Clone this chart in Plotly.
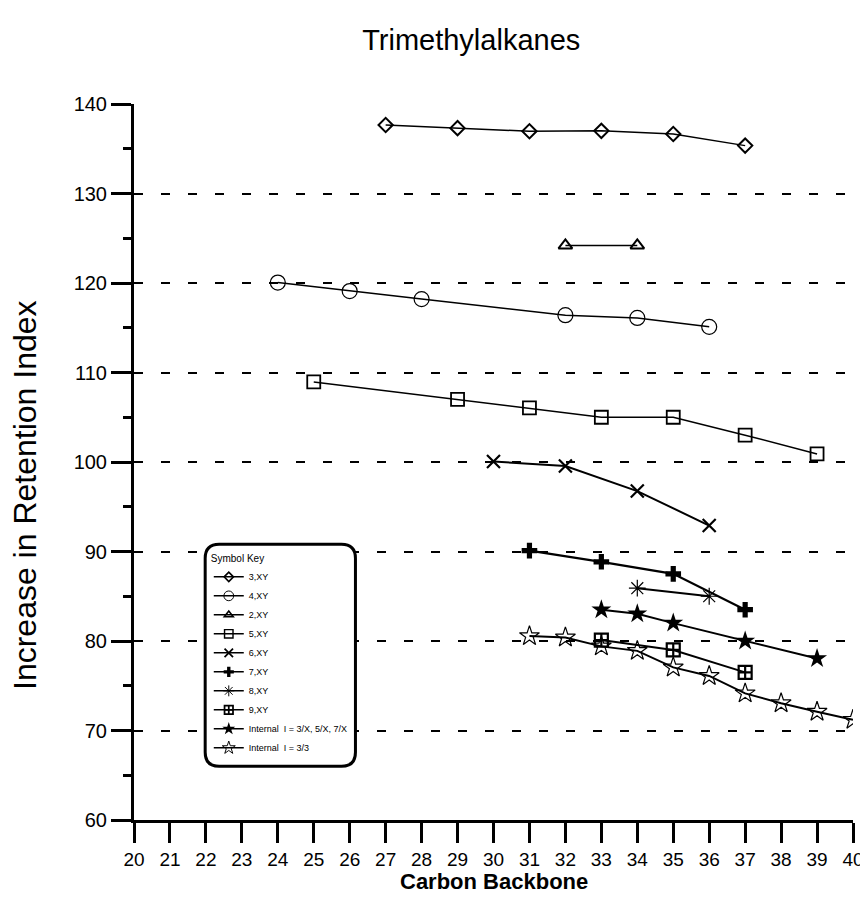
import plotly.graph_objects as go

title_text = "Trimethylalkanes"
x_title = "Carbon Backbone"
y_title = "Increase in Retention Index"

names = ["3,XY", "4,XY", "2,XY", "5,XY", "6,XY", "7,XY", "8,XY", "9,XY",
         "Internal  I = 3/X, 5/X, 7/X", "Internal  I = 3/3"]

x_3xy = [27, 29, 31, 33, 35, 37]
y_3xy = [137.65, 137.3, 136.95, 137.0, 136.65, 135.35]

x_4xy = [24, 26, 28, 32, 34, 36]
y_4xy = [120.05, 119.1, 118.2, 116.4, 116.1, 115.1]

x_2xy = [32, 34]
y_2xy = [124.2, 124.2]

x_5xy = [25, 29, 31, 33, 35, 37, 39]
y_5xy = [108.95, 107.0, 106.05, 105.0, 105.0, 103.0, 100.9]

x_6xy = [30, 32, 34, 36]
y_6xy = [100.05, 99.55, 96.75, 92.9]

x_7xy = [31, 33, 35, 37]
y_7xy = [90.1, 88.85, 87.5, 83.5]

x_8xy = [34, 36]
y_8xy = [85.9, 85.0]

x_9xy = [33, 35, 37]
y_9xy = [80.1, 79.0, 76.5]

x_int = [33, 34, 35, 37, 39]
y_int = [83.5, 83.05, 82.0, 80.0, 78.05]

x_int33 = [31, 32, 33, 34, 35, 36, 37, 38, 39, 40]
y_int33 = [80.55, 80.4, 79.4, 78.9, 77.05, 76.1, 74.15, 73.05, 72.1, 71.2]

xs = [x_3xy, x_4xy, x_2xy, x_5xy, x_6xy, x_7xy, x_8xy, x_9xy, x_int, x_int33]
ys = [y_3xy, y_4xy, y_2xy, y_5xy, y_6xy, y_7xy, y_8xy, y_9xy, y_int, y_int33]

styles = [
    dict(symbol="diamond-open", size=11, lw=2, linew=1.5),
    dict(symbol="circle-open", size=15, lw=1.2, linew=1.5),
    dict(symbol="triangle-up-open", size=12, lw=2, linew=1.5),
    dict(symbol="square-open", size=13, lw=1.8, linew=1.5),
    dict(symbol="x-thin-open", size=13, lw=2.2, linew=2),
    dict(symbol="cross", size=13, lw=0, linew=2.2),
    dict(symbol="asterisk-open", size=14, lw=1.2, linew=2),
    dict(symbol="square-cross-open", size=13, lw=2.2, linew=2),
    dict(symbol="star", size=15, lw=0, linew=2),
    dict(symbol="star-open", size=15, lw=1.2, linew=2),
]

fig = go.Figure()
for name, x, y, st in zip(names, xs, ys, styles):
    fig.add_trace(go.Scatter(
        x=x, y=y, name=name, mode="lines+markers", showlegend=False,
        line=dict(color="black", width=st["linew"]),
        marker=dict(symbol=st["symbol"], size=st["size"], color="black",
                    line=dict(color="black", width=st["lw"])),
    ))
# legend-only key entries (smaller symbols, as in the printed key)
for name, st in zip(names, styles):
    fig.add_trace(go.Scatter(
        x=[None], y=[None], name=name, mode="lines+markers", showlegend=True,
        line=dict(color="black", width=1.5),
        marker=dict(symbol=st["symbol"], size=st["size"] * 0.65, color="black",
                    line=dict(color="black", width=max(st["lw"] * 0.8, 0))),
    ))

# rounded legend box (paper coords)
x0, x1, y0, y1 = 0.099, 0.308, 0.075, 0.385
rx, ry = 14 / 719, 14 / 716
path = (f"M {x0+rx},{y1} L {x1-rx},{y1} Q {x1},{y1} {x1},{y1-ry} "
        f"L {x1},{y0+ry} Q {x1},{y0} {x1-rx},{y0} L {x0+rx},{y0} "
        f"Q {x0},{y0} {x0},{y0+ry} L {x0},{y1-ry} Q {x0},{y1} {x0+rx},{y1} Z")

fig.update_layout(
    width=860, height=886,
    margin=dict(l=126, r=15, t=96, b=74, autoexpand=False),
    paper_bgcolor="white", plot_bgcolor="white",
    font=dict(family="Liberation Sans, Arial, sans-serif", color="black"),
    title=dict(text=title_text, x=0.469, xref="paper", xanchor="center",
               y=0.964, yanchor="middle", font=dict(size=29)),
    shapes=[dict(type="path", path=path, xref="paper", yref="paper",
                 line=dict(color="black", width=3), fillcolor="white", layer="above")],
    annotations=[
        dict(text=y_title, textangle=-90, xref="paper", yref="paper",
             x=-0.1515, y=0.454, xanchor="center", yanchor="middle",
             showarrow=False, font=dict(size=32)),
        dict(text=f"<b>{x_title}</b>", xref="paper", yref="paper",
             x=0.5, y=-0.0855, xanchor="center", yanchor="middle",
             showarrow=False, font=dict(size=22)),
    ],
    legend=dict(x=0.104, y=0.378, xanchor="left", yanchor="top",
                bgcolor="rgba(0,0,0,0)", borderwidth=0,
                font=dict(size=9, family="Liberation Sans, Arial, sans-serif"),
                title=dict(text="Symbol Key", side="top", font=dict(size=10)),
                itemsizing="trace", itemwidth=30, tracegroupgap=0),
    showlegend=True,
)

fig.update_xaxes(
    range=[20, 40], dtick=1, tick0=20, automargin=False,
    showline=True, linecolor="black", linewidth=3,
    ticks="outside", ticklen=20, tickwidth=3, tickcolor="black",
    showgrid=False, zeroline=False, ticklabeloverflow="allow",
    tickfont=dict(size=19),
)
fig.update_yaxes(
    range=[60, 140], dtick=10, tick0=60, automargin=False,
    showline=True, linecolor="black", linewidth=3,
    ticks="outside", ticklen=20, tickwidth=3, tickcolor="black",
    minor=dict(dtick=5, ticks="outside", ticklen=8, tickwidth=3, tickcolor="black", showgrid=False),
    showgrid=True, gridcolor="black", gridwidth=1.5, griddash="9px,18px",
    zeroline=False,
    tickfont=dict(size=20),
)

fig.write_html("out.html")
